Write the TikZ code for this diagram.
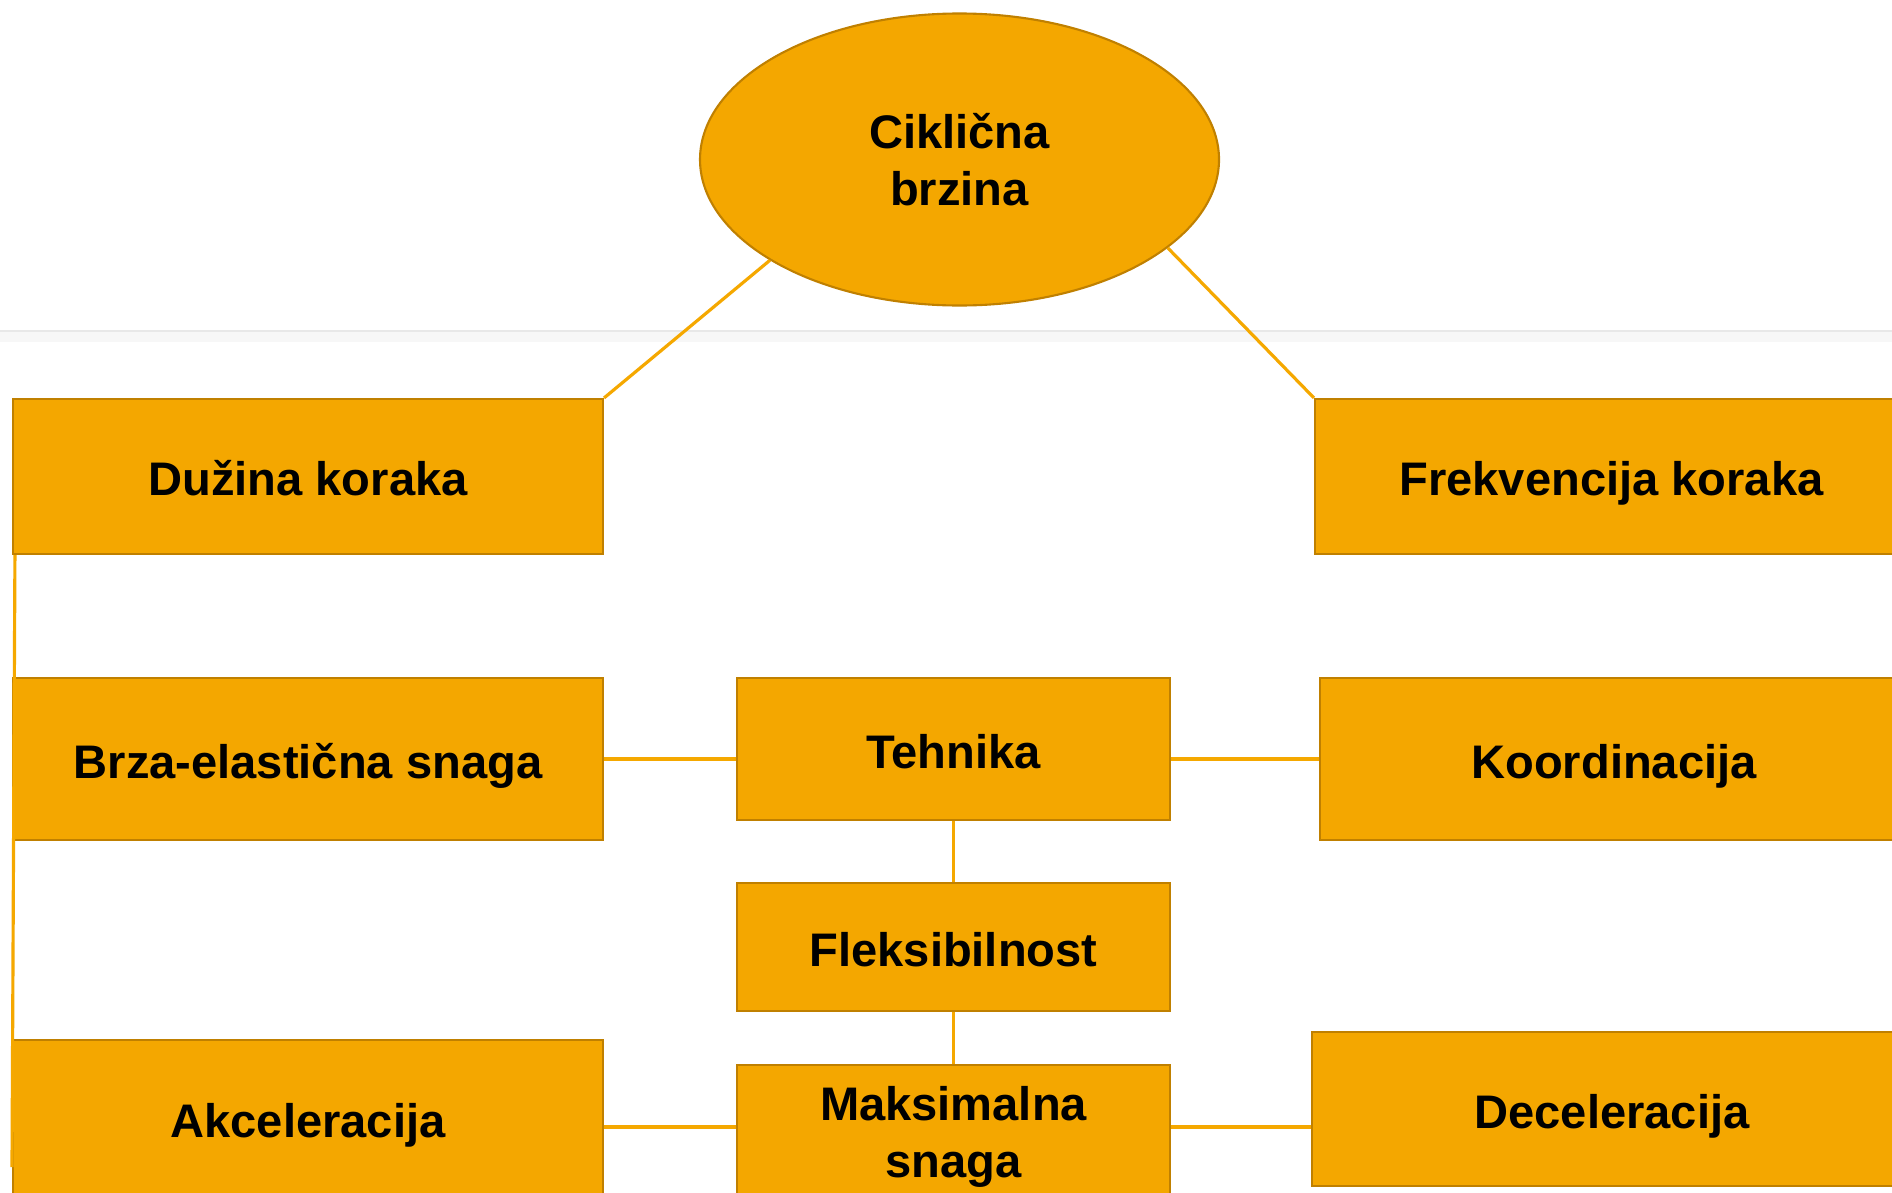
\documentclass[tikz,border=0pt]{standalone}
\usepackage{fontspec}
\setmainfont{Liberation Sans}
\usepackage{xcolor}
\usepackage{tikz}
\usetikzlibrary{shapes.geometric, positioning, calc}
\definecolor{boxfill}{RGB}{244,167,0}
\definecolor{boxline}{RGB}{192,128,0}
\definecolor{linkcol}{RGB}{245,168,0}

\begin{document}
\begin{tikzpicture}[x=1cm, y=-1cm, font=\bfseries\fontsize{13.4}{16.3}\selectfont]
\tikzstyle{box} = [rectangle, draw=boxline, fill=boxfill, text=black, align=center, inner sep=0pt, line width=0.6pt]
\tikzstyle{oneline} = [box, text height=0.38cm, text depth=0cm]
\tikzstyle{oval} = [ellipse, draw=boxline, fill=boxfill, text=black, align=center, inner sep=0pt, line width=0.6pt]
\tikzstyle{link} = [draw, linkcol, line width=0.9pt]

\clip (0,0) rectangle (18.92,11.92);
\fill [white] (0,0) rectangle (18.92,11.92);
% separator band
\fill [gray!6] (0,3.30) rectangle (18.92,3.42);
\draw [gray!18, line width=0.8pt] (0,3.31) -- (18.92,3.31);

\node (cyc) [oval, minimum width=5.19cm, minimum height=2.92cm] at (9.595,1.595) {Ciklična\\brzina};
\node (duz) [oneline, minimum width=5.90cm, minimum height=1.55cm] at (3.08,4.765) {Dužina koraka};
\node (frek) [oneline, minimum width=5.93cm, minimum height=1.55cm] at (16.115,4.765) {Frekvencija koraka};
\node (brza) [oneline, minimum width=5.90cm, minimum height=1.62cm] at (3.08,7.59) {Brza-elastična snaga};
\node (teh) [oneline, minimum width=4.33cm, minimum height=1.42cm] at (9.535,7.49) {Tehnika};
\node (koord) [oneline, minimum width=5.88cm, minimum height=1.62cm] at (16.14,7.59) {Koordinacija};
\node (flex) [oneline, minimum width=4.33cm, minimum height=1.28cm] at (9.535,9.47) {Fleksibilnost};
\node (maks) [box, minimum width=4.33cm, minimum height=1.44cm] at (9.535,11.37) {Maksimalna\\snaga};
\node (akc) [oneline, minimum width=5.90cm, minimum height=1.56cm] at (3.08,11.18) {Akceleracija};
\node (dec) [oneline, minimum width=6.00cm, minimum height=1.54cm] at (16.12,11.09) {Deceleracija};
\coordinate (lend) at (0.12,11.67);

\draw [link] (cyc.208) -- (duz.north east);
\draw [link] (cyc.337) -- (frek.north west);
\draw [link] ([xshift=0.03cm]duz.south west) -- (lend);
\draw [link] (brza.east) -- (brza.east -| teh.west);
\draw [link] (koord.west -| teh.east) -- (koord.west);
\draw [link] (teh.south) -- (flex.north);
\draw [link] (flex.south) -- (maks.north);
\draw [link] ([yshift=0.10cm]maks.west -| akc.east) -- ([yshift=0.10cm]maks.west);
\draw [link] ([yshift=0.10cm]maks.east) -- ([yshift=0.10cm]maks.east -| dec.west);
\end{tikzpicture}
\end{document}
